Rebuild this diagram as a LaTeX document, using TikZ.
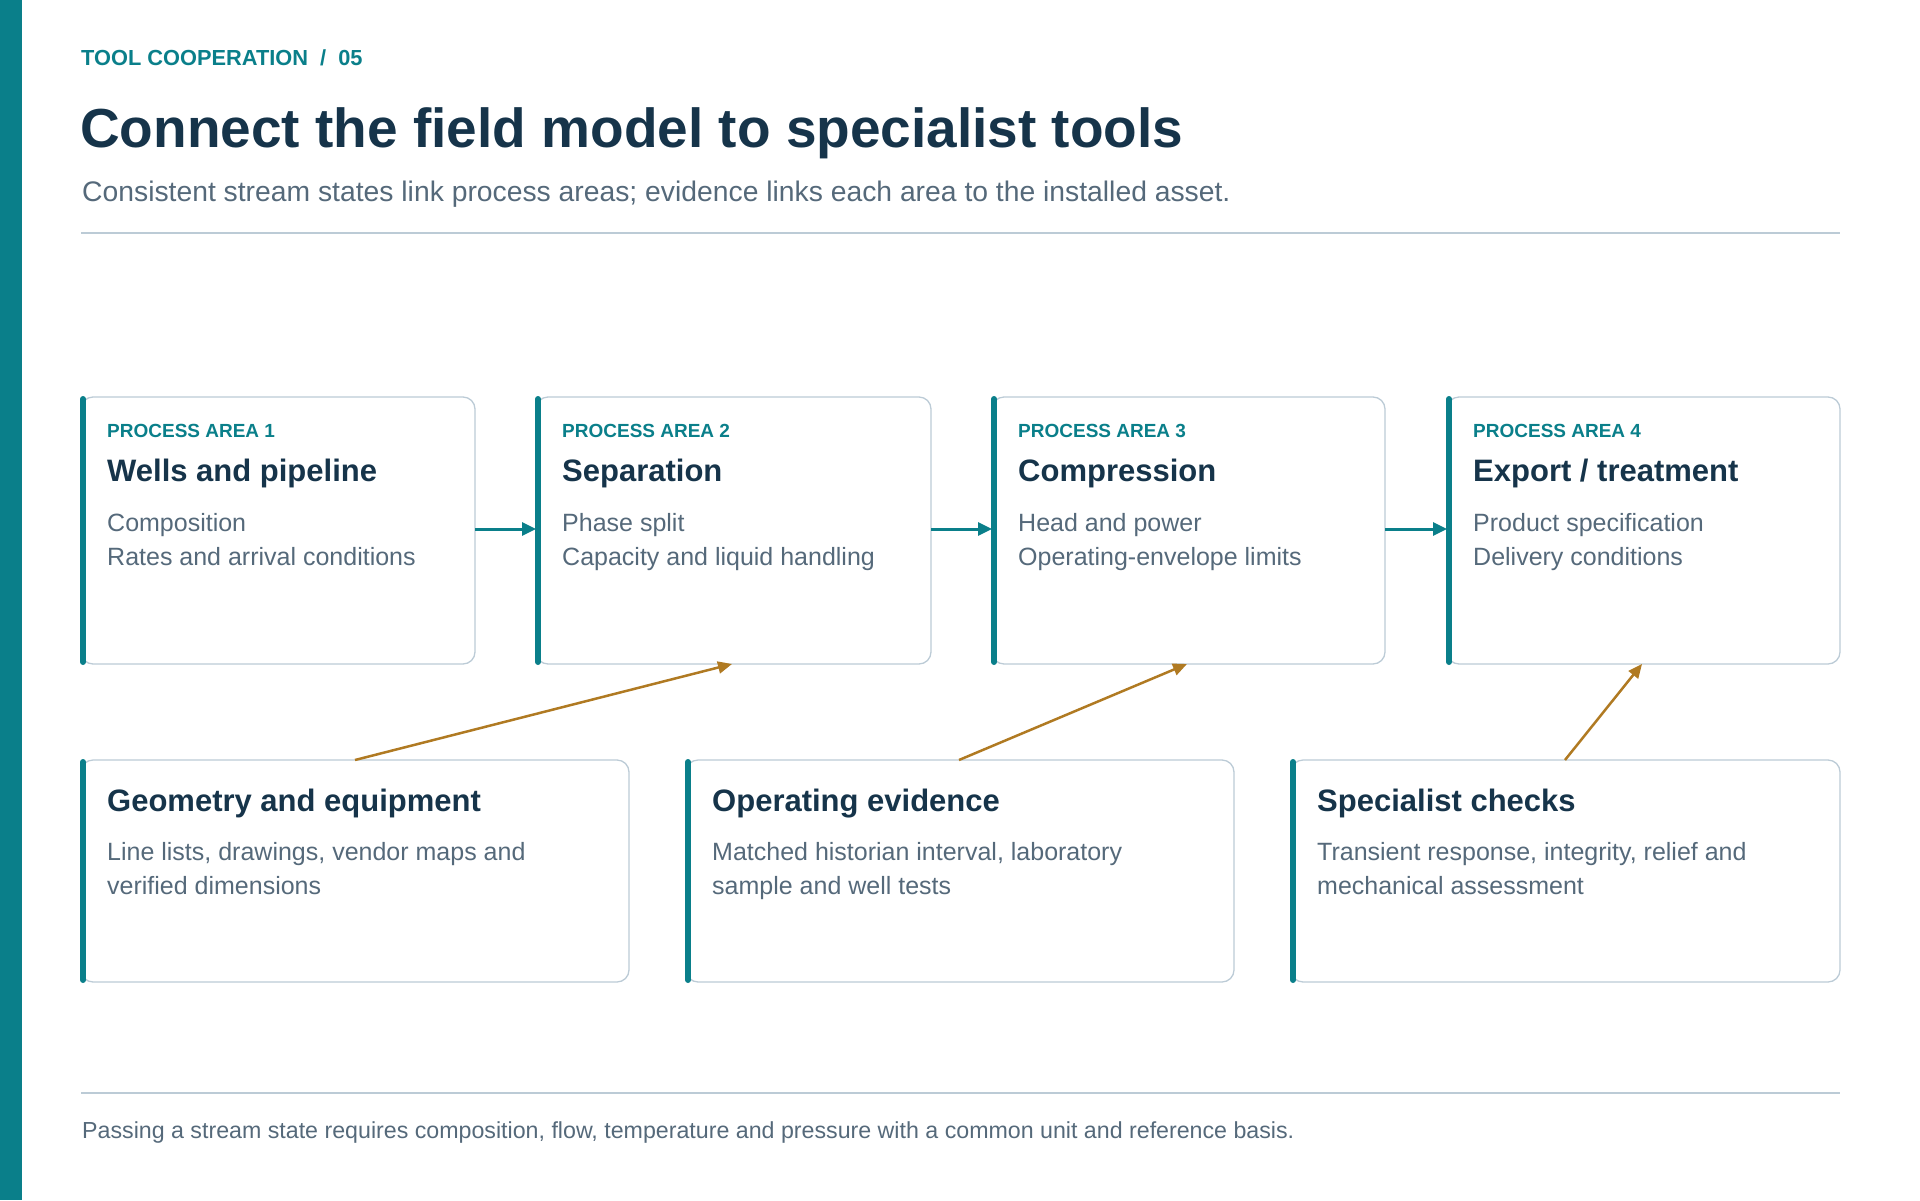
\documentclass[tikz,border=0pt]{standalone}
\usepackage{fontspec}
\setmainfont{Liberation Sans}
\usetikzlibrary{arrows.meta}
\definecolor{teal}{HTML}{0A7F8A}
\definecolor{navy}{HTML}{16344A}
\definecolor{gtext}{HTML}{55697A}
\definecolor{bord}{HTML}{BCCBD6}
\definecolor{brown}{HTML}{B07A22}
\begin{document}
\begin{tikzpicture}[x=1pt,y=-1pt,
  box/.style={draw=bord,line width=1.3pt,rounded corners=12pt},
  bar/.style={draw=teal,line width=6pt,line cap=round},
  lab/.style={anchor=base west,inner sep=0,text=teal,font=\fontsize{19}{21}\selectfont\bfseries},
  ttl/.style={anchor=base west,inner sep=0,text=navy,font=\fontsize{31}{34}\selectfont\bfseries},
  body/.style={anchor=base west,inner sep=0,text=gtext,font=\fontsize{25}{34}\selectfont,align=left},
  flow/.style={draw=teal,line width=3pt,-{Triangle[length=14pt,width=13pt]}},
  ev/.style={draw=brown,line width=2.5pt,-{Triangle[length=14pt,width=12pt]}}]
\useasboundingbox (0,0) rectangle (1920,1200);
\fill[teal] (0,0) rectangle (22,1200);
\node[anchor=base west,inner sep=0,text=teal,font=\fontsize{21.8}{24}\selectfont\bfseries] (hd) at (81,65) {TOOL COOPERATION \ / \ 05};
\node[anchor=base west,inner sep=0,text=navy,font=\fontsize{55}{62}\selectfont\bfseries] (title) at (80,147) {Connect the field model to specialist tools};
\node[anchor=base west,inner sep=0,text=gtext,font=\fontsize{28.3}{32}\selectfont] (sub) at (82,201) {Consistent stream states link process areas; evidence links each area to the installed asset.};
\draw[bord,line width=1.3pt] (81,233) -- (1840,233);
\draw[bord,line width=1.3pt] (81,1093) -- (1840,1093);
\node[anchor=base west,inner sep=0,text=gtext,font=\fontsize{23.2}{26}\selectfont] (foot) at (82,1138) {Passing a stream state requires composition, flow, temperature and pressure with a common unit and reference basis.};
% process boxes
\foreach \i/\xa/\xb/\n/\t/\la in {
 1/81/475/{Wells and pipeline}/{Composition}/{Rates and arrival conditions},
 2/536/931/{Separation}/{Phase split}/{Capacity and liquid handling},
 3/992/1385/{Compression}/{Head and power}/{Operating-envelope limits},
 4/1447/1840/{Export / treatment}/{Product specification}/{Delivery conditions}}{
 \draw[box] (\xa,397) rectangle (\xb,664);
 \node[coordinate] (pl\i) at (\xa,529) {};
 \node[coordinate] (pr\i) at (\xb,529) {};
 \draw[bar] (\xa+2,399) -- (\xa+2,662);
 \node[lab] at (\xa+26,437) {PROCESS AREA \i};
 \node[ttl] at (\xa+26,481) {\n};
 \node[body] at (\xa+26,531) {\t};
 \node[body] at (\xa+26,565) {\la};
}
\draw[flow] (pr1) -- (pl2);
\draw[flow] (pr2) -- (pl3);
\draw[flow] (pr3) -- (pl4);
% evidence boxes
\foreach \i/\xa/\xb/\n/\la/\lb in {
 1/81/629/{Geometry and equipment}/{Line lists, drawings, vendor maps and}/{verified dimensions},
 2/686/1234/{Operating evidence}/{Matched historian interval, laboratory}/{sample and well tests},
 3/1291/1840/{Specialist checks}/{Transient response, integrity, relief and}/{mechanical assessment}}{
 \draw[box] (\xa,760) rectangle (\xb,982);
 \draw[bar] (\xa+2,762) -- (\xa+2,980);
 \node[ttl] at (\xa+26,811) {\n};
 \node[body] at (\xa+26,860) {\la};
 \node[body] at (\xa+26,894) {\lb};
}
\coordinate (e1) at (355,760); \coordinate (t1) at (732,664);
\coordinate (e2) at (959,760); \coordinate (t2) at (1187,664);
\coordinate (e3) at (1565,760); \coordinate (t3) at (1642,664);
\draw[ev] (e1) -- (t1);
\draw[ev] (e2) -- (t2);
\draw[ev] (e3) -- (t3);
\end{tikzpicture}
\end{document}
